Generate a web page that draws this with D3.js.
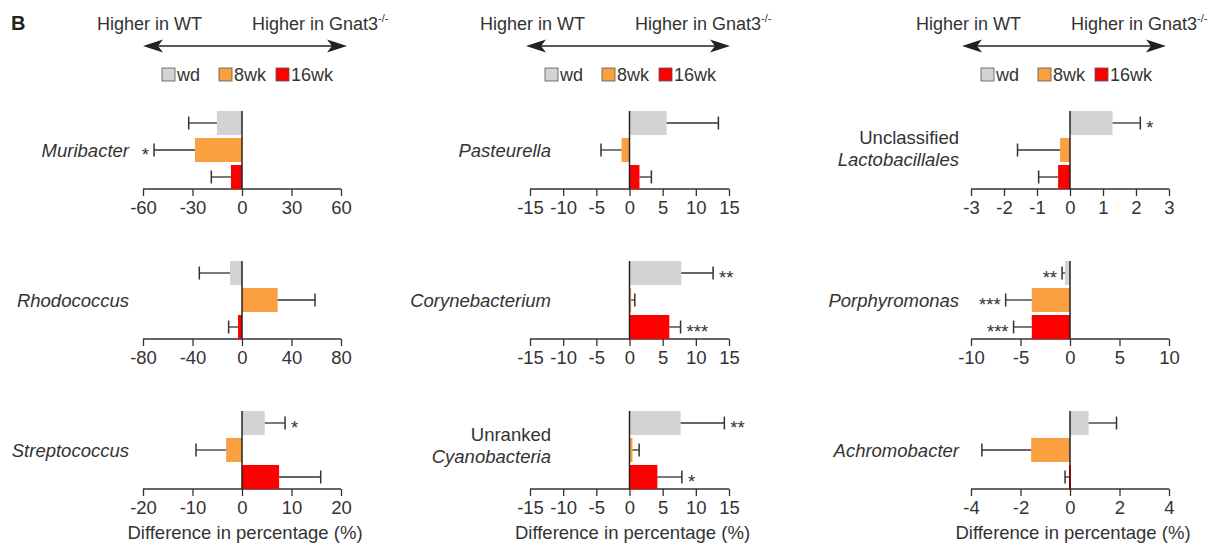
<!DOCTYPE html>
<html>
<head>
<meta charset="utf-8">
<script src="https://cdn.jsdelivr.net/npm/d3@7"></script>
<style>
  html, body { margin: 0; padding: 0; background: #fff; }
  svg { display: block; font-family: "Liberation Sans", Arial, sans-serif; }
</style>
</head>
<body>
<svg id="chart" width="1224" height="551"></svg>
<script>
// ---------------- data ----------------
const groups = ["wd", "8wk", "16wk"];
const groupColors = ["#d3d3d3", "#fba040", "#ff0000"];

// panels in column order (col 1 top->bottom, col 2, col 3)
const taxa = ["Muribacter", "Rhodococcus", "Streptococcus",
              "Pasteurella", "Corynebacterium", "Cyanobacteria",
              "Lactobacillales", "Porphyromonas", "Achromobacter"];
const taxaPrefix = ["", "", "", "", "", "Unranked", "Unclassified", "", ""];

// mean difference (%) for wd, 8wk, 16wk
const means = [
  [-15.2, -28.5, -6.7],
  [-9.7, 28.8, -3.2],
  [4.6, -3.2, 7.5],
  [5.6, -1.2, 1.5],
  [7.8, 0.25, 6.0],
  [7.7, 0.45, 4.2],
  [1.29, -0.3, -0.36],
  [-0.5, -3.86, -3.86],
  [0.75, -1.57, -0.04]
];
// error bar length (one-sided, away from zero)
const errors = [
  [17.1, 24.8, 11.9],
  [24.8, 30.2, 7.6],
  [4.1, 6.1, 8.4],
  [7.8, 3.1, 1.8],
  [4.8, 0.55, 1.7],
  [6.6, 1.0, 3.7],
  [0.84, 1.29, 0.59],
  [0.3, 2.64, 1.84],
  [1.13, 1.99, 0.16]
];
const stars = [
  ["", "*", ""],
  ["", "", ""],
  ["*", "", ""],
  ["", "", ""],
  ["**", "", "***"],
  ["**", "", "*"],
  ["*", "", ""],
  ["**", "***", "***"],
  ["", "", ""]
];
const axisMax = [60, 80, 20, 15, 15, 15, 3, 10, 4];
const tickStep = [30, 40, 10, 5, 5, 5, 1, 5, 2];

const headerLeft = "Higher in WT";
const headerRight = "Higher in Gnat3";
const headerSup = "-/-";
const axisTitle = "Difference in percentage (%)";
const panelLetter = "B";

// ---------------- layout ----------------
const colRange = [[143, 341], [530, 729], [971, 1169]];
const labelRight = [129, 551, 959];
const rowAxisY = [189, 339, 489];
const panelH = 78;
const arrowX = [143, 526, 962];
const textColor = "#333";

const svg = d3.select("#chart");

svg.append("text")
  .attr("x", 11).attr("y", 30)
  .attr("font-size", 20).attr("font-weight", "bold")
  .attr("fill", "#222")
  .text(panelLetter);

// headers
arrowX.forEach((ax) => {
  const g = svg.append("g");
  g.append("text").attr("x", ax - 46).attr("y", 30)
    .attr("font-size", 18).attr("fill", textColor).text(headerLeft);
  const t = g.append("text").attr("x", ax + 109).attr("y", 30)
    .attr("font-size", 18).attr("fill", textColor).text(headerRight);
  t.append("tspan").attr("font-size", 11).attr("dy", -8).text(headerSup);

  const ay = 46, len = 204, ah = 20, hw = 6.5;
  g.append("line").attr("x1", ax + 6).attr("x2", ax + len - 6)
    .attr("y1", ay).attr("y2", ay)
    .attr("stroke", "#222").attr("stroke-width", 1.5);
  g.append("path")
    .attr("d", `M${ax},${ay} L${ax + ah},${ay - hw} L${ax + ah - 5},${ay} L${ax + ah},${ay + hw} Z`)
    .attr("fill", "#222");
  g.append("path")
    .attr("d", `M${ax + len},${ay} L${ax + len - ah},${ay - hw} L${ax + len - ah + 5},${ay} L${ax + len - ah},${ay + hw} Z`)
    .attr("fill", "#222");

  const legOff = [19, 76, 133];
  groups.forEach((grp, i) => {
    g.append("rect").attr("x", ax + legOff[i]).attr("y", 68)
      .attr("width", 13).attr("height", 13)
      .attr("fill", groupColors[i]).attr("stroke", "#555").attr("stroke-width", 0.8);
    g.append("text").attr("x", ax + legOff[i] + 15).attr("y", 81)
      .attr("font-size", 18).attr("fill", textColor).text(grp);
  });
});

// panels
taxa.forEach((name, p) => {
  const col = Math.floor(p / 3), row = p % 3;
  const axisY = rowAxisY[row];
  const top = axisY - panelH;
  const M = axisMax[p];
  const x = d3.scaleLinear().domain([-M, M]).range(colRange[col]);
  const y = d3.scaleBand().domain(groups).range([top, axisY]).paddingInner(0.11);
  const g = svg.append("g");

  const ticks = d3.range(-M, M + 0.001, tickStep[p]);
  const axis = d3.axisBottom(x).tickValues(ticks).tickSize(7).tickPadding(5)
    .tickFormat(d => String(Math.round(d)));
  const ag = g.append("g").attr("transform", `translate(0,${axisY})`).call(axis);
  ag.select(".domain").attr("stroke", textColor).attr("stroke-width", 1.3)
    .attr("d", `M${x(-M)},0H${x(M)}`);
  ag.selectAll(".tick line").attr("stroke", textColor).attr("stroke-width", 1.3);
  ag.selectAll(".tick text").attr("font-size", 18.5).attr("fill", textColor)
    .attr("font-family", '"Liberation Sans", Arial, sans-serif');

  groups.forEach((grp, i) => {
    const v = means[p][i];
    const e = errors[p][i];
    const bx = Math.min(x(0), x(v));
    const bw = Math.abs(x(v) - x(0));
    const by = y(grp), bh = y.bandwidth();
    const cy = by + bh / 2;
    g.append("rect").attr("x", bx).attr("y", by)
      .attr("width", bw).attr("height", bh).attr("fill", groupColors[i]);
    const end = v >= 0 ? v + e : v - e;
    g.append("line").attr("x1", x(v)).attr("x2", x(end)).attr("y1", cy).attr("y2", cy)
      .attr("stroke", textColor).attr("stroke-width", 1.3);
    g.append("line").attr("x1", x(end)).attr("x2", x(end)).attr("y1", cy - 6.5).attr("y2", cy + 6.5)
      .attr("stroke", textColor).attr("stroke-width", 1.5);
    if (stars[p][i]) {
      g.append("text")
        .attr("x", v >= 0 ? x(end) + 6 : x(end) - 5)
        .attr("y", cy + 11)
        .attr("text-anchor", v >= 0 ? "start" : "end")
        .attr("font-size", 18.5).attr("fill", textColor).text(stars[p][i]);
    }
  });

  // zero line (tinted dark red where a near-zero 16wk bar sits on it)
  g.append("line").attr("x1", x(0)).attr("x2", x(0)).attr("y1", top).attr("y2", axisY)
    .attr("stroke", "#222").attr("stroke-width", 1.5);
  if (Math.abs(x(means[p][2]) - x(0)) < 1.5) {
    g.append("line").attr("x1", x(0)).attr("x2", x(0))
      .attr("y1", y(groups[2])).attr("y2", axisY)
      .attr("stroke", "#8a0000").attr("stroke-width", 1.8);
  }

  // category label
  const cy = y(groups[1]) + y.bandwidth() / 2;
  if (taxaPrefix[p]) {
    const shift = row === 0 ? 0 : -3;
    g.append("text").attr("x", labelRight[col]).attr("y", cy - 6 + shift)
      .attr("text-anchor", "end").attr("font-size", 18.5).attr("fill", textColor)
      .text(taxaPrefix[p]);
    g.append("text").attr("x", labelRight[col]).attr("y", cy + 16 + shift)
      .attr("text-anchor", "end").attr("font-size", 18.5).attr("font-style", "italic")
      .attr("fill", textColor).text(name);
  } else {
    g.append("text").attr("x", labelRight[col]).attr("y", cy + 6.5)
      .attr("text-anchor", "end").attr("font-size", 18.5).attr("font-style", "italic")
      .attr("fill", textColor).text(name);
  }

  if (row === 2) {
    g.append("text").attr("x", (colRange[col][0] + colRange[col][1]) / 2 + 3)
      .attr("y", 539).attr("text-anchor", "middle")
      .attr("font-size", 18.5).attr("fill", textColor).text(axisTitle);
  }
});
</script>
</body>
</html>
